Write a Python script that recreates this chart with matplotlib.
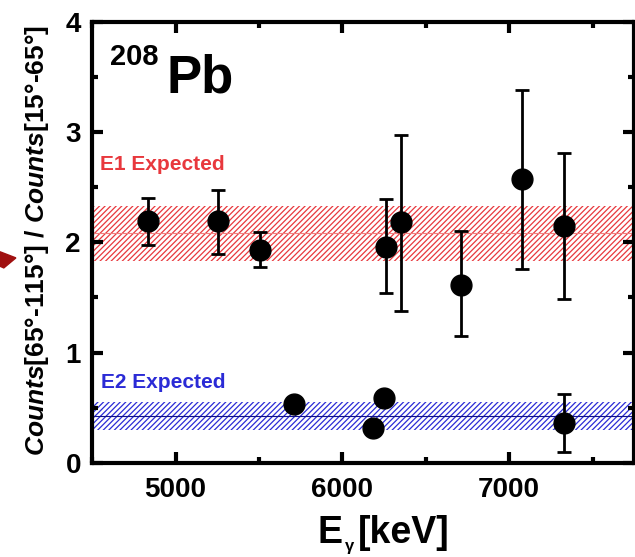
import matplotlib

matplotlib.use("Agg")
import matplotlib.pyplot as plt
from matplotlib.patches import Polygon
from matplotlib.ticker import MultipleLocator

plt.rcParams["font.family"] = ["Liberation Sans", "DejaVu Sans"]
plt.rcParams["mathtext.fontset"] = "custom"
plt.rcParams["mathtext.rm"] = "Liberation Sans:bold"
plt.rcParams["mathtext.bf"] = "Liberation Sans:bold"
plt.rcParams["mathtext.it"] = "Liberation Sans:italic:bold"
plt.rcParams["hatch.linewidth"] = 0.9

# E1-like transitions (upper group)
e1_energy = [4834, 5252, 5509, 6259, 6351, 6713, 7079, 7328]
e1_ratio = [2.19, 2.19, 1.93, 1.96, 2.18, 1.61, 2.57, 2.15]
e1_err_up = [0.21, 0.28, 0.16, 0.43, 0.79, 0.49, 0.81, 0.66]
e1_err_lo = [0.21, 0.30, 0.15, 0.42, 0.80, 0.46, 0.81, 0.66]

# E2-like transitions (lower group)
e2_energy = [5712, 6184, 6249, 7328]
e2_ratio = [0.535, 0.315, 0.587, 0.36]
e2_err_up = [0.03, 0.03, 0.03, 0.26]
e2_err_lo = [0.03, 0.03, 0.03, 0.26]

# expected bands: (low, centre, high)
e1_band = (1.83, 2.08, 2.33)
e2_band = (0.30, 0.425, 0.55)

x_range = (4500, 7750)
y_range = (0, 4)

RED = "#e8383d"
BLUE = "#2b2bd6"

fig = plt.figure(figsize=(6.35, 5.57), dpi=100)
ax = fig.add_axes([0.145, 0.169, 0.854, 0.792])

for band, col, lcol in [(e1_band, RED, "#f08080"), (e2_band, BLUE, "#10108a")]:
    ax.fill_between(x_range, band[0], band[2], facecolor="white", edgecolor=col,
                    hatch="//////", linewidth=0, zorder=1)
    ax.axhline(band[1], color=lcol, lw=0.8, zorder=1.5)

ax.errorbar(e1_energy, e1_ratio, yerr=[e1_err_lo, e1_err_up], fmt="o", color="black",
            ms=15, elinewidth=2, capsize=5, capthick=2, zorder=3)
ax.errorbar(e2_energy, e2_ratio, yerr=[e2_err_lo, e2_err_up], fmt="o", color="black",
            ms=15, elinewidth=2, capsize=5, capthick=2, zorder=3)

ax.set_xlim(*x_range)
ax.set_ylim(*y_range)
ax.xaxis.set_major_locator(MultipleLocator(1000))
ax.xaxis.set_minor_locator(MultipleLocator(500))
ax.yaxis.set_major_locator(MultipleLocator(1))
ax.yaxis.set_minor_locator(MultipleLocator(0.5))
ax.tick_params(which="both", direction="in", top=True, right=True, width=3)
ax.tick_params(which="major", length=8, labelsize=20)
ax.tick_params(axis="x", which="major", pad=10)
ax.tick_params(axis="y", which="major", pad=8)
ax.tick_params(which="minor", length=4)
for lab in ax.get_xticklabels() + ax.get_yticklabels():
    lab.set_fontweight("bold")
for sp in ax.spines.values():
    sp.set_linewidth(3)

# x label: E with a small gamma subscript, then [keV]
ax.text(0.415, -0.181, "E", transform=ax.transAxes, fontsize=27, fontweight="bold")
ax.text(0.466, -0.200, "γ", transform=ax.transAxes, fontsize=12, fontweight="bold")
ax.text(0.490, -0.181, "[keV]", transform=ax.transAxes, fontsize=27, fontweight="bold")

ax.set_ylabel(r"$\mathit{Counts}$[65°-115°] / $\mathit{Counts}$[15°-65°]",
              fontsize=19, fontweight="bold", va="center")
ax.yaxis.set_label_coords(-0.101, 0.503)

ax.text(0.033, 0.902, "208", transform=ax.transAxes, fontsize=21, fontweight="bold")
ax.text(0.138, 0.839, "Pb", transform=ax.transAxes, fontsize=38, fontweight="bold")
ax.text(0.015, 0.664, "E1 Expected", transform=ax.transAxes, fontsize=15,
        fontweight="bold", color=RED)
ax.text(0.017, 0.170, "E2 Expected", transform=ax.transAxes, fontsize=15,
        fontweight="bold", color=BLUE)

# cropped arrow head at the left edge
fig.add_artist(Polygon([(0, 0.548), (0.025, 0.537), (0.006, 0.519), (0, 0.522)],
                       closed=True, transform=fig.transFigure, color="#a01010"))

fig.savefig("out.png", dpi=100)
